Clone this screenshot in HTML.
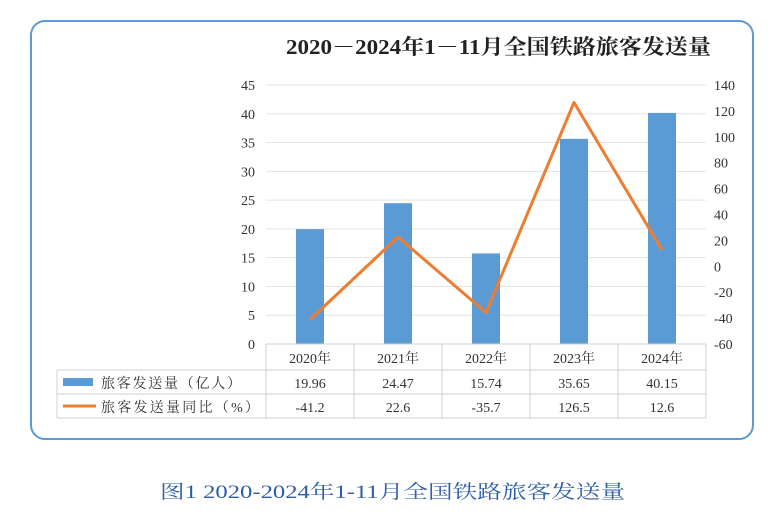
<!DOCTYPE html>
<html><head><meta charset="utf-8">
<style>
body{margin:0;width:781px;height:514px;background:#fff;overflow:hidden;font-family:"Liberation Serif","Noto Serif CJK SC",serif;}
svg text{font-family:"Liberation Serif","Noto Serif CJK SC",serif;}
</style></head><body>
<svg width="781" height="514">
<rect x="31" y="21" width="722" height="418" rx="14" fill="#fff" stroke="#5b9bd5" stroke-width="2"/>
<text x="286" y="54" font-size="21" font-weight="bold" textLength="425" lengthAdjust="spacingAndGlyphs" fill="#222">2020－2024年1－11月全国铁路旅客发送量</text>
<g id="grid"></g><g id="bars"></g><g id="line"></g><g id="axes"></g><g id="table"></g>
<text x="160" y="498" font-size="19" textLength="465" lengthAdjust="spacingAndGlyphs" fill="#2e5ea8">图1 2020-2024年1-11月全国铁路旅客发送量</text>
</svg>
<script>
const categories=["2020年","2021年","2022年","2023年","2024年"];
const volume=[19.96,24.47,15.74,35.65,40.15];
const yoy=[-41.2,22.6,-35.7,126.5,12.6];
const leftTicks=[0,5,10,15,20,25,30,35,40,45];
const rightTicks=[-60,-40,-20,0,20,40,60,80,100,120,140];
const NS="http://www.w3.org/2000/svg";
const X0=266,CW=88,YT=85,YB=344;
const yL=v=>YB-(v/45)*(YB-YT);
const yR=v=>YB-((v+60)/200)*(YB-YT);
const xc=i=>X0+CW*i+CW/2;
function mk(tag,attrs,parent,txt){const e=document.createElementNS(NS,tag);for(const k in attrs)e.setAttribute(k,attrs[k]);if(txt!==undefined)e.textContent=txt;document.getElementById(parent).appendChild(e);return e;}
leftTicks.forEach(t=>{
 if(t>0){const g=mk('line',{x1:X0,x2:X0+CW*5,y1:yL(t),y2:yL(t),stroke:'#e3e3e3','stroke-width':1},'grid');
 
 }
 const l=mk('text',{x:255,y:yL(t)+5,'font-size':14,'text-anchor':'end',fill:'#333'},'axes',String(t));
 
 
});
rightTicks.forEach(t=>{
 const l=mk('text',{x:714,y:yR(t)+5,'font-size':14,'text-anchor':'start',fill:'#333'},'axes',String(t));
 
 
});
volume.forEach((v,i)=>{
 const b=mk('rect',{x:xc(i)-14,y:yL(v),width:28,height:YB-yL(v),fill:'#5b9bd5'},'bars');
 
 
});
const pts=yoy.map((v,i)=>xc(i)+','+yR(v)).join(' ');
const pl=mk('polyline',{points:pts,fill:'none',stroke:'#ed7d31','stroke-width':3,'stroke-linejoin':'round'},'line');


const tc='#d0d0d0';
const T=(a,txt)=>mk('text',Object.assign({'font-size':14,'text-anchor':'middle',fill:'#333'},a),'table',txt);
const L=(x1,y1,x2,y2)=>mk('line',{x1,y1,x2,y2,stroke:tc,'stroke-width':1},'table');
L(X0,YB,X0+CW*5,YB);L(57,370,X0+CW*5,370);L(57,394,X0+CW*5,394);L(57,418,X0+CW*5,418);
L(57,370,57,418);
for(let i=0;i<=5;i++)L(X0+CW*i,YB,X0+CW*i,418);
categories.forEach((c,i)=>{
 const a=T({x:xc(i),y:363},c);
 
 
 const b=T({x:xc(i),y:388},String(volume[i]));
 
 
 const d=T({x:xc(i),y:412},String(yoy[i]));
 
 
});
const k1=mk('rect',{x:63,y:378,width:30,height:8,fill:'#5b9bd5'},'table');


const t1=T({x:101,y:388,'text-anchor':'start',textLength:140,lengthAdjust:'spacing'},'旅客发送量（亿人）');


const k2=mk('line',{x1:63,x2:96,y1:406,y2:406,stroke:'#ed7d31','stroke-width':3},'table');


const t2=T({x:101,y:412,'text-anchor':'start',textLength:158,lengthAdjust:'spacing'},'旅客发送量同比（%）');


</script>
</body></html>
